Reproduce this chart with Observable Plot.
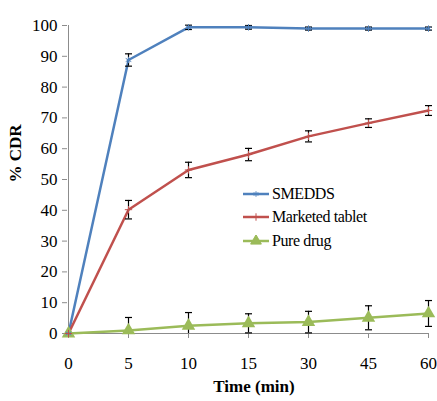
<!DOCTYPE html>
<html>
<head>
<meta charset="utf-8">
<script src="https://cdn.jsdelivr.net/npm/d3@7"></script>
<script src="https://cdn.jsdelivr.net/npm/@observablehq/plot@0.6"></script>
<style>
  html, body { margin: 0; padding: 0; background: #fff; }
  #wrap { position: relative; width: 437px; height: 401px; }
  #legend { position: absolute; left: 243px; top: 182px; font-family: 'Liberation Serif', 'Times New Roman', serif; font-size: 16px; letter-spacing: -0.4px; color: #000; }
  #legend .row { display: flex; align-items: center; height: 23.5px; }
  #legend svg { margin-right: 3px; }
</style>
</head>
<body>
<div id="wrap"></div>
<script>
const times = ["0", "5", "10", "15", "30", "45", "60"];
const seriesNames = ["SMEDDS", "Marketed tablet", "Pure drug"];
const seriesColors = ["#4F81BD", "#C0504D", "#9BBB59"];
const seriesSymbols = ["asterisk", "plus", "triangle"];
const smedds = [0, 88.8, 99.4, 99.4, 99.0, 99.0, 99.0];
const smeddsErr = [0, 2.0, 0.7, 0.6, 0.5, 0.5, 0.5];
const marketed = [0, 40.2, 53.1, 58.1, 64.0, 68.3, 72.4];
const marketedErr = [0, 3.0, 2.5, 2.0, 1.8, 1.4, 1.6];
const pure = [0, 1.0, 2.5, 3.3, 3.7, 5.1, 6.5];
const pureErr = [0, 4.2, 4.3, 3.1, 3.5, 3.9, 4.2];
const yTicks = [0, 10, 20, 30, 40, 50, 60, 70, 80, 90, 100];

const allVals = [smedds, marketed, pure];
const allErrs = [smeddsErr, marketedErr, pureErr];
const data = [];
seriesNames.forEach((s, i) => {
  times.forEach((t, j) => {
    data.push({series: s, time: t, value: allVals[i][j], err: allErrs[i][j]});
  });
});
const errData = data.filter(d => d.err > 0);
const lowCaps = errData.filter(d => d.value - d.err >= 0);

const cap = {draw(ctx, size) { const w = 3.5; ctx.moveTo(-w, 0); ctx.lineTo(w, 0); }};

const plot = Plot.plot({
  width: 437,
  height: 401,
  marginLeft: 67,
  marginRight: 9,
  marginTop: 25,
  marginBottom: 68,
  style: {fontFamily: "'Liberation Serif', 'Times New Roman', serif", fontSize: "16px", color: "#000", background: "#fff"},
  x: {type: "point", domain: times, padding: 0, label: null},
  y: {domain: [0, 100], label: null},
  color: {domain: seriesNames, range: seriesColors},
  symbol: {domain: seriesNames, range: seriesSymbols},
  marks: [
    Plot.ruleX([times[0]], {stroke: "#8c8c8c", strokeWidth: 1}),
    Plot.ruleY([0], {stroke: "#8c8c8c", strokeWidth: 1}),
    Plot.axisY({ticks: yTicks, tickSize: 5, tickPadding: 5, stroke: "#8c8c8c", label: null, fontSize: 17}),
    Plot.axisX({tickSize: 5, tickPadding: 18, stroke: "#8c8c8c", label: null, fontSize: 17}),
    Plot.text(["% CDR"], {frameAnchor: "left", rotate: -90, dx: -52, dy: 3, fontWeight: "bold", fontSize: 17}),
    Plot.text(["Time (min)"], {frameAnchor: "bottom", dy: 58, dx: 6, fontWeight: "bold", fontSize: 17}),
    Plot.line(data, {x: "time", y: "value", z: "series", stroke: "series", strokeWidth: 2.5}),
    Plot.ruleX(errData, {x: "time", y1: d => Math.max(0, d.value - d.err), y2: d => d.value + d.err, stroke: "#000", strokeWidth: 1.2}),
    Plot.dot(errData, {x: "time", y: d => d.value + d.err, symbol: () => cap, stroke: "#000", strokeWidth: 1.2}),
    Plot.dot(lowCaps, {x: "time", y: d => d.value - d.err, symbol: () => cap, stroke: "#000", strokeWidth: 1.2}),
    Plot.dot(data.filter(d => d.series === "Pure drug"), {x: "time", y: "value", symbol: "triangle", fill: "series", r: 5}),
    Plot.dot(data.filter(d => d.series === "SMEDDS"), {x: "time", y: "value", symbol: "asterisk", stroke: "series", r: 3, strokeWidth: 1}),
    Plot.dot(data.filter(d => d.series === "Marketed tablet"), {x: "time", y: "value", symbol: "plus", stroke: "series", r: 2.5, strokeWidth: 1})
  ]
});
const wrap = document.getElementById("wrap");
wrap.appendChild(plot);

const legend = document.createElement("div");
legend.id = "legend";
seriesNames.forEach((s, i) => {
  const row = document.createElement("div");
  row.className = "row";
  const sw = d3.create("svg").attr("width", 26).attr("height", 12);
  sw.append("line").attr("x1", 0).attr("x2", 26).attr("y1", 6).attr("y2", 6).attr("stroke", seriesColors[i]).attr("stroke-width", 2.5);
  const sym = d3.symbol(i === 0 ? d3.symbolAsterisk : i === 1 ? d3.symbolPlus : d3.symbolTriangle, i === 2 ? 50 : 20)();
  sw.append("path").attr("d", sym).attr("transform", "translate(13,6)")
    .attr("fill", i === 2 ? seriesColors[i] : "none").attr("stroke", seriesColors[i]).attr("stroke-width", 1);
  row.appendChild(sw.node());
  const t = document.createElement("span");
  t.textContent = s;
  row.appendChild(t);
  legend.appendChild(row);
});
wrap.appendChild(legend);
</script>
</body>
</html>
